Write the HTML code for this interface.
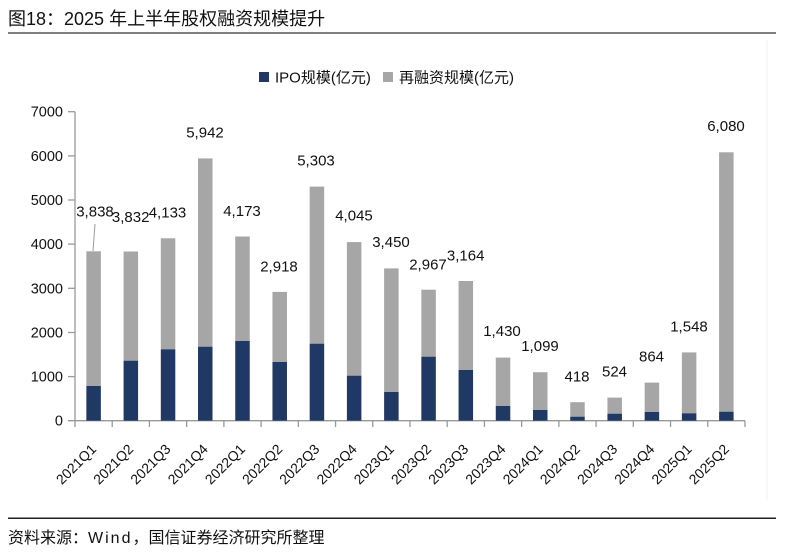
<!DOCTYPE html>
<html><head><meta charset="utf-8"><style>
html,body{margin:0;padding:0;background:#fff;}
svg{display:block;}
.t{font-family:"Liberation Sans","Noto Sans CJK SC",sans-serif;}
</style></head><body>
<svg width="800" height="554" viewBox="0 0 800 554" xmlns="http://www.w3.org/2000/svg">
<rect width="800" height="554" fill="#fff"/>
<text class="t" x="8" y="25" font-size="18" fill="#111">图18：2025 年上半年股权融资规模提升</text>
<line x1="8" y1="33" x2="776" y2="33" stroke="#555" stroke-width="1.5"/>
<line x1="767" y1="40" x2="767" y2="500" stroke="#f0f0f0" stroke-width="1"/>
<!-- legend -->
<rect x="259" y="72" width="10" height="10" fill="#203864"/>
<text class="t" x="275" y="82.5" font-size="15" fill="#111">IPO规模(亿元)</text>
<rect x="383" y="72" width="10" height="10" fill="#a6a6a6"/>
<text class="t" x="399" y="82.5" font-size="15" fill="#111">再融资规模(亿元)</text>
<!-- y axis -->
<g class="t" font-size="14.5" fill="#111" text-anchor="end">
<text x="63" y="425.7">0</text>
<text x="63" y="381.6">1000</text>
<text x="63" y="337.5">2000</text>
<text x="63" y="293.3">3000</text>
<text x="63" y="249.1">4000</text>
<text x="63" y="205.0">5000</text>
<text x="63" y="160.9">6000</text>
<text x="63" y="116.7">7000</text>
</g>
<g stroke="#999" stroke-width="1.3">
<line x1="75" y1="111.7" x2="75" y2="420.7"/>
<line x1="68" y1="111.7" x2="75" y2="111.7"/>
<line x1="68" y1="155.9" x2="75" y2="155.9"/>
<line x1="68" y1="200.0" x2="75" y2="200.0"/>
<line x1="68" y1="244.1" x2="75" y2="244.1"/>
<line x1="68" y1="288.3" x2="75" y2="288.3"/>
<line x1="68" y1="332.5" x2="75" y2="332.5"/>
<line x1="68" y1="376.6" x2="75" y2="376.6"/>
<line x1="68" y1="420.7" x2="745" y2="420.7"/>
</g>
<!-- bars -->
<g fill="#a6a6a6">
<rect x="86.36" y="251.3" width="14.5" height="134.7"/>
<rect x="123.58" y="251.5" width="14.5" height="109.2"/>
<rect x="160.80" y="238.3" width="14.5" height="111.0"/>
<rect x="198.02" y="158.4" width="14.5" height="188.3"/>
<rect x="235.24" y="236.5" width="14.5" height="104.5"/>
<rect x="272.46" y="291.9" width="14.5" height="70.1"/>
<rect x="309.68" y="186.6" width="14.5" height="157.1"/>
<rect x="346.90" y="242.1" width="14.5" height="133.6"/>
<rect x="384.12" y="268.4" width="14.5" height="123.6"/>
<rect x="421.34" y="289.7" width="14.5" height="67.0"/>
<rect x="458.56" y="281.0" width="14.5" height="89.0"/>
<rect x="495.78" y="357.6" width="14.5" height="48.4"/>
<rect x="533.00" y="372.2" width="14.5" height="37.8"/>
<rect x="570.22" y="402.2" width="14.5" height="14.5"/>
<rect x="607.44" y="397.6" width="14.5" height="16.1"/>
<rect x="644.66" y="382.6" width="14.5" height="29.4"/>
<rect x="681.88" y="352.4" width="14.5" height="60.9"/>
<rect x="719.10" y="152.3" width="14.5" height="259.4"/>
</g>
<g fill="#203864">
<rect x="86.36" y="386.0" width="14.5" height="34.7"/>
<rect x="123.58" y="360.7" width="14.5" height="60.0"/>
<rect x="160.80" y="349.3" width="14.5" height="71.4"/>
<rect x="198.02" y="346.7" width="14.5" height="74.0"/>
<rect x="235.24" y="341.0" width="14.5" height="79.7"/>
<rect x="272.46" y="362.0" width="14.5" height="58.7"/>
<rect x="309.68" y="343.7" width="14.5" height="77.0"/>
<rect x="346.90" y="375.7" width="14.5" height="45.0"/>
<rect x="384.12" y="392.0" width="14.5" height="28.7"/>
<rect x="421.34" y="356.7" width="14.5" height="64.0"/>
<rect x="458.56" y="370.0" width="14.5" height="50.7"/>
<rect x="495.78" y="406.0" width="14.5" height="14.7"/>
<rect x="533.00" y="410.0" width="14.5" height="10.7"/>
<rect x="570.22" y="416.7" width="14.5" height="4.0"/>
<rect x="607.44" y="413.7" width="14.5" height="7.0"/>
<rect x="644.66" y="412.0" width="14.5" height="8.7"/>
<rect x="681.88" y="413.3" width="14.5" height="7.4"/>
<rect x="719.10" y="411.7" width="14.5" height="9.0"/>
</g>
<!-- x ticks -->
<g stroke="#999" stroke-width="1.3">
<line x1="75" y1="420.7" x2="75" y2="427"/>
<line x1="112.22" y1="420.7" x2="112.22" y2="427"/>
<line x1="149.44" y1="420.7" x2="149.44" y2="427"/>
<line x1="186.66" y1="420.7" x2="186.66" y2="427"/>
<line x1="223.88" y1="420.7" x2="223.88" y2="427"/>
<line x1="261.10" y1="420.7" x2="261.10" y2="427"/>
<line x1="298.32" y1="420.7" x2="298.32" y2="427"/>
<line x1="335.54" y1="420.7" x2="335.54" y2="427"/>
<line x1="372.76" y1="420.7" x2="372.76" y2="427"/>
<line x1="409.98" y1="420.7" x2="409.98" y2="427"/>
<line x1="447.20" y1="420.7" x2="447.20" y2="427"/>
<line x1="484.42" y1="420.7" x2="484.42" y2="427"/>
<line x1="521.64" y1="420.7" x2="521.64" y2="427"/>
<line x1="558.86" y1="420.7" x2="558.86" y2="427"/>
<line x1="596.08" y1="420.7" x2="596.08" y2="427"/>
<line x1="633.30" y1="420.7" x2="633.30" y2="427"/>
<line x1="670.52" y1="420.7" x2="670.52" y2="427"/>
<line x1="707.74" y1="420.7" x2="707.74" y2="427"/>
<line x1="744.96" y1="420.7" x2="744.96" y2="427"/>
</g>
<!-- leader line -->
<line x1="95" y1="224" x2="93" y2="251" stroke="#999" stroke-width="1"/>
<!-- value labels -->
<g class="t" font-size="15" fill="#111" text-anchor="middle">
<text x="95" y="216.5">3,838</text>
<text x="130.7" y="222">3,832</text>
<text x="167.5" y="217.5">4,133</text>
<text x="205" y="137.5">5,942</text>
<text x="242" y="216">4,173</text>
<text x="279" y="271.5">2,918</text>
<text x="316" y="165.5">5,303</text>
<text x="354" y="220.5">4,045</text>
<text x="391" y="247">3,450</text>
<text x="428" y="269.5">2,967</text>
<text x="465.7" y="260.5">3,164</text>
<text x="502" y="336">1,430</text>
<text x="540" y="351">1,099</text>
<text x="577" y="381.5">418</text>
<text x="614.5" y="376.5">524</text>
<text x="651.5" y="361.5">864</text>
<text x="689" y="331.5">1,548</text>
<text x="726" y="131">6,080</text>
</g>
<!-- x labels -->
<g class="t" font-size="14" fill="#111" text-anchor="end">
<text transform="translate(97.1,450) rotate(-45)">2021Q1</text>
<text transform="translate(134.3,450) rotate(-45)">2021Q2</text>
<text transform="translate(171.5,450) rotate(-45)">2021Q3</text>
<text transform="translate(208.8,450) rotate(-45)">2021Q4</text>
<text transform="translate(246.0,450) rotate(-45)">2022Q1</text>
<text transform="translate(283.2,450) rotate(-45)">2022Q2</text>
<text transform="translate(320.4,450) rotate(-45)">2022Q3</text>
<text transform="translate(357.7,450) rotate(-45)">2022Q4</text>
<text transform="translate(394.9,450) rotate(-45)">2023Q1</text>
<text transform="translate(432.1,450) rotate(-45)">2023Q2</text>
<text transform="translate(469.3,450) rotate(-45)">2023Q3</text>
<text transform="translate(506.5,450) rotate(-45)">2023Q4</text>
<text transform="translate(543.8,450) rotate(-45)">2024Q1</text>
<text transform="translate(581.0,450) rotate(-45)">2024Q2</text>
<text transform="translate(618.2,450) rotate(-45)">2024Q3</text>
<text transform="translate(655.4,450) rotate(-45)">2024Q4</text>
<text transform="translate(692.6,450) rotate(-45)">2025Q1</text>
<text transform="translate(729.9,450) rotate(-45)">2025Q2</text>
</g>
<line x1="8" y1="518.3" x2="776" y2="518.3" stroke="#222" stroke-width="1.5"/>
<text class="t" x="8" y="543" font-size="16" fill="#111">资料来源：<tspan letter-spacing="2">Wind</tspan>，国信证券经济研究所整理</text>
</svg>
</body></html>
